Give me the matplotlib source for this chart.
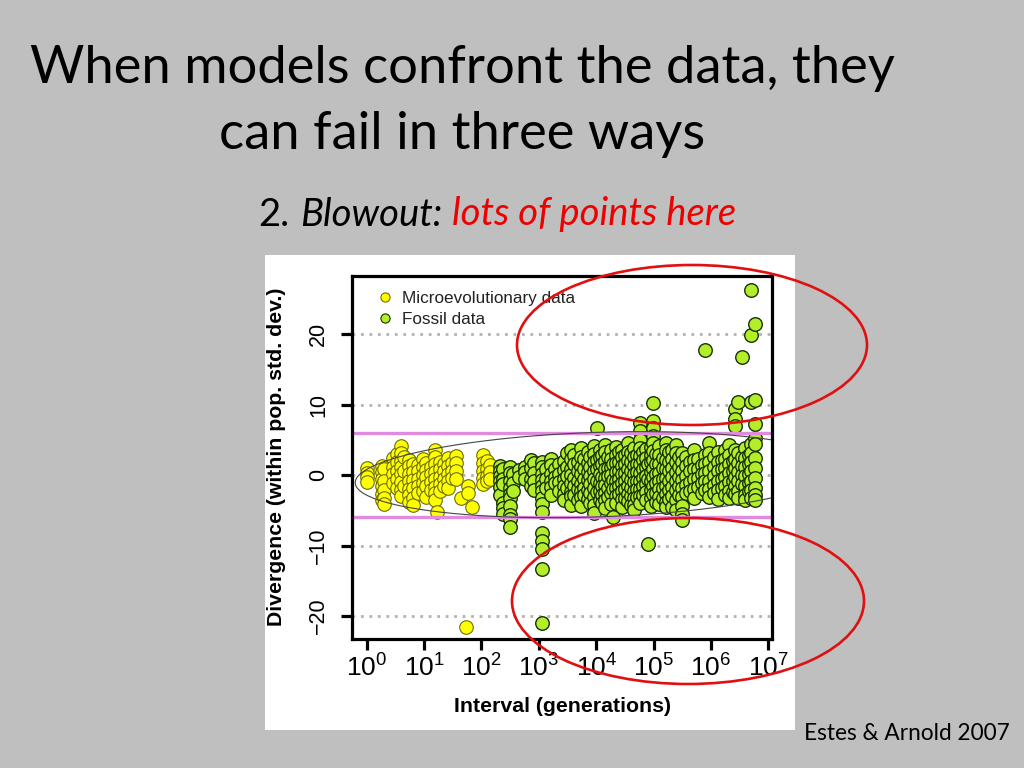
import numpy as np
import matplotlib
matplotlib.use('Agg')
import matplotlib.pyplot as plt
from matplotlib.patches import Ellipse, Rectangle
from matplotlib.lines import Line2D

plt.rcParams['mathtext.fontset'] = 'custom'
plt.rcParams['mathtext.rm'] = 'Liberation Sans'
plt.rcParams['mathtext.it'] = 'Liberation Sans:italic'
plt.rcParams['mathtext.bf'] = 'Liberation Sans:bold'
plt.rcParams['font.family'] = ['Liberation Sans', 'DejaVu Sans']

# ---------------- data (log10 of interval in generations, divergence) ----------------
micro_col_log_gen = [0.00, 0.27, 0.31, 0.45, 0.52, 0.60, 0.65, 0.73, 0.80, 0.90,
                     0.98, 1.04, 1.12, 1.19, 1.22, 1.27, 1.34, 1.42, 1.48, 1.56,
                     1.65, 1.73, 1.77, 1.83, 2.02, 2.09, 2.15]
micro_col_div = [
    [1.0, 0.3, -0.3, -1.0],
    [1.3, 0.4, -0.5, -1.6, -2.7, -3.6],
    [0.9, -0.9, -2.1, -3.2, -4.1],
    [2.4, 1.2, 0.1, -1.1],
    [3.0, 1.8, 0.6, -0.6, -1.8],
    [4.1, 3.1, 2.0, 1.1, 0.1, -1.0, -2.1, -3.0],
    [2.6, 0.5, -1.5],
    [2.2, 1.3, 0.2, -0.9, -2.0, -2.9, -3.8],
    [1.6, 0.4, -0.7, -1.9, -3.3, -4.2],
    [1.4, 0.5, -0.5, -1.5, -2.6],
    [2.3, 1.1, 0.0, -1.2, -2.3],
    [1.7, 0.7, -0.3, -1.6, -3.1],
    [1.1, 0.1, -1.0, -2.1],
    [3.6, 2.6, 1.5, 0.4, -0.6, -1.7, -2.6, -3.5],
    [-5.3],
    [1.9, 0.8, -0.3, -1.3, -2.3],
    [1.5, 0.5, -0.6, -1.6],
    [2.4, 1.3, 0.2, -0.8, -1.8],
    [1.7, 0.6, -0.4],
    [2.7, 1.7, 0.5, -0.6],
    [-3.2],
    [-21.6],
    [-1.6, -2.6],
    [-4.6],
    [2.8, 1.7, 0.6, -0.4, -1.3],
    [2.0, 0.9, -0.1, -0.9],
    [1.4, 0.4, -0.6],
]

fossil_col_log_gen = [2.33, 2.38, 2.50, 2.55, 2.66, 2.76, 2.86, 2.92, 3.05, 3.13,
                      3.21, 3.29, 3.36, 3.44, 3.50, 3.56, 3.62, 3.68, 3.73, 3.79,
                      3.85, 3.90, 3.96, 4.01, 4.06, 4.11, 4.16, 4.21, 4.26, 4.30,
                      4.35, 4.40, 4.45, 4.50, 4.55, 4.60, 4.66, 4.71, 4.76, 4.81,
                      4.86, 4.90, 4.95, 4.99, 5.05, 5.10, 5.16, 5.21, 5.27, 5.33,
                      5.40, 5.45, 5.49, 5.56, 5.63, 5.70, 5.78, 5.85, 5.90, 5.97,
                      6.05, 6.12, 6.19, 6.25, 6.32, 6.38, 6.42, 6.48, 6.54, 6.60,
                      6.66, 6.70, 6.77]
fossil_col_div = [
    [1.3, 0.5, -0.2, -0.9, -1.7, -2.8],
    [0.9, -0.5, -1.3, -3.9, -4.7, -5.5],
    [1.1, 0.3, -0.8, -1.9, -2.7, -3.3, -4.4, -5.6, -6.2, -7.4],
    [0.2, -1.1, -2.2],
    [0.7, -0.3],
    [1.2, 0.4, -0.5],
    [2.2, 1.0, -0.6, -1.5],
    [1.7, 0.3, -0.9, -2.1],
    [1.9, 1.1, 0.2, -0.7, -1.6, -2.3, -3.3, -4.1, -5.2, -8.2, -9.4, -10.5, -13.3, -21.0],
    [0.8, -0.6, -1.9],
    [2.3, 1.4, 0.1, -0.8, -1.7, -2.9],
    [0.9, -0.3, -1.2],
    [1.6, 0.2, -1.0, -2.3],
    [2.0, 0.7, -0.5, -1.6, -2.7, -3.5],
    [3.1, 1.2, -0.2, -1.9],
    [3.5, 2.3, 0.9, 0.0, -1.1, -2.4, -3.0, -4.2],
    [2.8, 1.5, -0.4, -1.6, -2.8],
    [1.9, 0.6, -0.9, -2.0, -3.6],
    [3.9, 2.6, 1.2, 0.2, -1.3, -2.3, -3.1, -4.4],
    [2.3, 0.8, -0.5, -1.8, -2.9],
    [3.2, 1.7, 0.4, -0.7, -2.1, -3.4],
    [2.6, 1.1, -0.2, -1.3, -2.6, -3.9],
    [4.1, 3.0, 1.8, 0.5, -0.6, -1.9, -3.1, -4.3, -5.4],
    [6.6, 2.2, 0.9, -0.9, -2.4],
    [3.5, 2.5, 1.3, 0.2, -1.1, -2.2, -3.6],
    [2.9, 1.6, -0.3, -1.6, -2.9, -4.0],
    [4.3, 3.3, 2.0, 0.8, -0.4, -1.4, -2.5, -3.5, -4.7],
    [2.5, 1.0, -0.2, -1.9, -3.1],
    [3.6, 2.3, 1.1, 0.0, -1.2, -2.6, -4.1],
    [1.6, -0.7, -2.0, -6.0],
    [4.0, 2.8, 1.7, 0.4, -0.8, -1.8, -3.0, -3.9],
    [3.2, 1.9, 0.6, -0.5, -1.5, -2.7],
    [3.6, 2.5, 1.3, 0.1, -1.2, -2.2, -3.4, -4.6],
    [2.8, 1.6, 0.3, -0.9, -2.0, -3.2],
    [4.5, 3.3, 2.1, 0.9, -0.3, -1.5, -2.7, -3.7],
    [3.1, 1.8, 0.5, -0.7, -1.9, -3.0, -4.3],
    [3.8, 2.6, 1.3, 0.2, -1.0, -2.3, -3.3, -4.2, -5.0],
    [2.9, 1.6, 0.4, -0.9, -2.0, -3.1],
    [7.4, 6.2, 5.0, 3.9, 2.7, 1.5, 0.3, -0.8, -2.0, -3.0, -4.0],
    [3.3, 2.1, 0.9, -0.4, -1.6, -2.8],
    [3.7, 2.4, 1.1, -0.1, -1.3, -2.4, -3.5],
    [1.6, -0.6, -9.8],
    [4.0, 2.9, 1.8, 0.4, -0.9, -2.1, -3.3, -4.4],
    [10.2, 7.7, 6.7, 5.6, 4.6, 3.4, 2.2, 0.9, -0.3, -1.6, -2.7],
    [3.0, 1.6, 0.2, -1.2, -2.5, -3.8],
    [4.1, 2.8, 1.5, 0.3, -0.9, -2.0, -3.1, -4.1],
    [2.4, 1.0, -0.5, -1.8, -3.2],
    [4.6, 3.5, 2.2, 0.9, -0.4, -1.6, -2.7, -3.8, -4.5],
    [3.2, 1.8, 0.5, -0.8, -2.1, -3.4],
    [3.6, 2.3, 1.0, -0.3, -1.7, -3.0, -4.6],
    [4.3, 3.1, 1.8, 0.4, -0.9, -2.1, -3.6, -5.0],
    [2.6, 1.2, -0.3, -1.5, -2.9],
    [3.1, 1.9, 0.6, -0.7, -1.9, -3.1, -4.4, -5.5, -6.4],
    [2.6, 1.3, -0.1, -1.4, -2.6],
    [1.9, 0.5, -1.0, -2.2],
    [3.6, 2.2, 0.8, -0.6, -2.0, -3.2],
    [2.3, 0.9, -0.4, -1.7],
    [1.4, 0.1, -1.2, -2.6],
    [17.7, 2.9, 1.6, 0.3, -0.9, -2.1],
    [4.5, 3.1, 1.8, 0.5, -0.8, -2.0, -3.1],
    [2.5, 1.2, -0.1, -1.4, -2.6],
    [3.3, 1.9, 0.6, -0.8, -2.1, -3.4],
    [2.1, 0.8, -0.6, -1.9],
    [3.6, 2.3, 1.0, -0.3, -1.6, -2.8],
    [4.2, 2.9, 1.6, 0.3, -1.0, -2.2, -3.3],
    [2.0, 0.6, -0.8, -2.4],
    [9.3, 8.0, 6.9, 3.6, 2.3, 1.0, -0.3, -1.5, -2.7],
    [10.3, 3.1, 1.7, 0.4, -0.9, -2.2, -3.2],
    [16.7, 2.6, 1.3, 0.0, -1.3],
    [3.8, 2.4, 1.1, -0.2, -1.5, -2.8, -3.6],
    [2.9, 1.5, 0.2, -1.1, -2.3],
    [26.3, 19.8, 10.4, 4.4, 3.1, 1.8, 0.5, -0.8, -2.1, -3.3],
    [21.4, 10.6, 7.2, 5.3, 4.4, 2.4, 1.0, -0.4, -1.8, -2.8, -3.5],
]

x_tick_exponents = [0, 1, 2, 3, 4, 5, 6, 7]
y_ticks = [-20, -10, 0, 10, 20]
guide_levels = [-20, -10, 0, 10, 20]
band_levels = [-6, 6]

title_text = "When models confront the data, they\ncan fail in three ways"
legend_labels = ["Microevolutionary data", "Fossil data"]


def expand(cols, vals):
    xs, ys = [], []
    for c, v in zip(cols, vals):
        for yy in v:
            xs.append(10 ** c)
            ys.append(yy)
    return np.array(xs), np.array(ys)


mx, my = expand(micro_col_log_gen, micro_col_div)
fx, fy = expand(fossil_col_log_gen, fossil_col_div)

W, H = 1024, 768
fig = plt.figure(figsize=(10.24, 7.68), dpi=100, facecolor='#bfbfbf')

# white panel behind the R plot
fig.patches.append(Rectangle((265 / W, 1 - 730 / H), 530 / W, 475 / H,
                             transform=fig.transFigure, facecolor='white',
                             edgecolor='none', zorder=-5))

ax = fig.add_axes([351.5 / W, 1 - 639.3 / H, 420 / W, 363.6 / H])
ax.set_zorder(2)
ax.set_facecolor('white')
ax.set_xscale('log')
ax.set_xlim(10 ** -0.265, 10 ** 7.056)
ax.set_ylim(-23.3, 28.27)

for lv in guide_levels:
    ax.axhline(lv, color='#b3b3b3', lw=2.0, ls=(0, (1.0, 2.05)), zorder=1)

ax.scatter(mx, my, s=95, facecolor='#ffff00', edgecolor='#6e6e00', linewidths=0.8, zorder=3)
ax.scatter(fx, fy, s=95, facecolor='#b4ee2a', edgecolor='#173204', linewidths=1.0, zorder=3)

for lv in band_levels:
    ax.axhline(lv, color='#e08ae0', lw=2.4, zorder=4)

# grey ellipse (drawn in log-x space)
t = np.linspace(0, 2 * np.pi, 400)
cx, a, cy, b, slope = 4.0, 4.2, 0.05, 6.0, 0.27
lx = cx + a * np.cos(t)
ey = cy + slope * (lx - cx) + b * np.sin(t)
ax.plot(10 ** lx, ey, color='#444444', lw=0.8, zorder=5)

for sp in ax.spines.values():
    sp.set_linewidth(2.3)
    sp.set_zorder(6)

ax.set_xticks([10.0 ** e for e in x_tick_exponents])
ax.set_xticklabels([r'$10^{%d}$' % e for e in x_tick_exponents], fontsize=19)
ax.xaxis.set_minor_locator(matplotlib.ticker.NullLocator())
ax.set_yticks(y_ticks)
ax.set_yticklabels([str(v).replace('-', '\u2212') for v in y_ticks], fontsize=15.5,
                   rotation=90, va='center')
ax.tick_params(axis='both', which='major', direction='out', length=8, width=2.3, color='black')
ax.tick_params(axis='x', pad=3)
ax.tick_params(axis='y', pad=8)

ax.set_xlabel('Interval (generations)', fontsize=15.3, fontweight='bold')
ax.xaxis.set_label_coords((563 - 351.5) / 420, (639.3 - 706) / 363.6)
ax.xaxis.label.set_va('center')
ax.set_ylabel('Divergence (within pop. std. dev.)', fontsize=15.3, fontweight='bold')
ax.yaxis.set_label_coords((276 - 351.5) / 420, (639.3 - 457) / 363.6)
ax.yaxis.label.set_va('center')

handles = [Line2D([], [], ls='none', marker='o', markersize=6.6, markerfacecolor='#ffff00',
                  markeredgecolor='#6e6e00', markeredgewidth=0.8),
           Line2D([], [], ls='none', marker='o', markersize=6.6, markerfacecolor='#b4ee2a',
                  markeredgecolor='#173204', markeredgewidth=0.8)]
leg = ax.legend(handles, legend_labels, loc='upper left',
                bbox_to_anchor=(376.5 / W, 1 - 291 / H), bbox_transform=fig.transFigure,
                frameon=False, fontsize=12.3,
                handlelength=1.0, handletextpad=0.5, labelspacing=0.34, borderpad=0,
                borderaxespad=0)
for txt in leg.get_texts():
    txt.set_color('#222222')

# red highlight ellipses (slide annotation)
fig.patches.append(Ellipse((692 / W, 1 - 345 / H), 350 / W, 160 / H, transform=fig.transFigure,
                           fill=False, edgecolor='#e01010', lw=1.9, zorder=10))
fig.patches.append(Ellipse((688 / W, 1 - 601 / H), 352 / W, 166 / H, transform=fig.transFigure,
                           fill=False, edgecolor='#e01010', lw=1.9, zorder=10))

# slide texts
fig.text(462 / W, 1 - 101.5 / H, title_text, ha='center', va='center', fontsize=37.8,
         family=['Lato', 'DejaVu Sans'], linespacing=1.51, color='black')
sub_y = 1 - 214.5 / H
fig.text(258 / W, sub_y, '2.', ha='left', va='center', fontsize=27.5,
         family=['Lato', 'DejaVu Sans'], color='black')
fig.text(300 / W, sub_y, 'Blowout:', ha='left', va='center', fontsize=27.5, style='italic',
         family=['Lato', 'DejaVu Sans'], color='black')
fig.text(452 / W, sub_y, 'lots of points here', ha='left', va='center', fontsize=27.5,
         style='italic', family=['Lato', 'DejaVu Sans'], color='#ee0000')
fig.text(1010 / W, 1 - 733 / H, 'Estes & Arnold 2007', ha='right', va='center', fontsize=16.3,
         family=['Lato', 'DejaVu Sans'], color='black')

fig.savefig('out.png', dpi=100, facecolor=fig.get_facecolor())
